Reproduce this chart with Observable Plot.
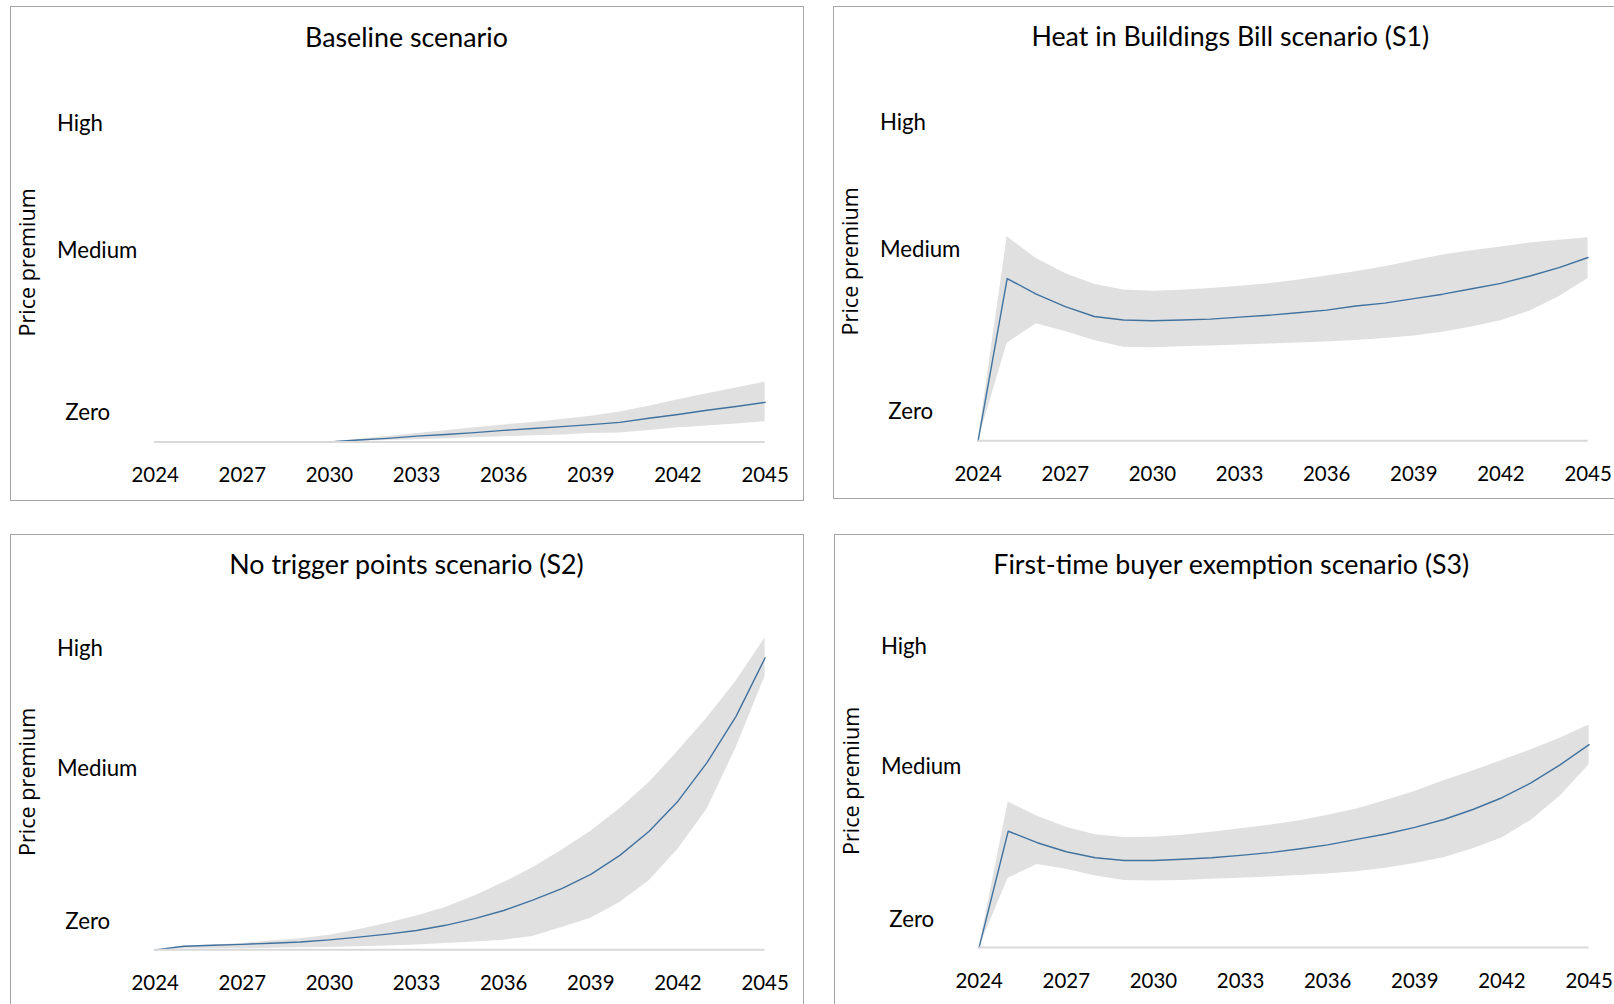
<!DOCTYPE html>
<html>
<head>
<meta charset="utf-8">
<script src="https://cdn.jsdelivr.net/npm/d3@7"></script>
<script src="https://cdn.jsdelivr.net/npm/@observablehq/plot@0.6"></script>
<style>
  html, body { margin: 0; padding: 0; background: #fff; }
  body { width: 1614px; height: 1004px; overflow: hidden; position: relative; font-family: Lato, sans-serif; color: #000; }
  .panel { position: absolute; border: 1.3px solid #a6a6a6; box-sizing: border-box; background: #fff; }
  .panel svg { position: absolute; left: -1px; top: -1px; overflow: visible; }
  .ptitle { position: absolute; left: 0; right: 0; text-align: center; font-family: Lato, sans-serif; font-size: 26.8px; line-height: 1; white-space: nowrap; color: #000; }
  .ylab { position: absolute; left: 0; top: 0; font-family: "Open Sans", sans-serif; font-size: 21.6px; line-height: 1; white-space: nowrap; color: #000; transform-origin: 0 0; }
</style>
</head>
<body>
<script>
// ---- data ----
const years = [2024, 2025, 2026, 2027, 2028, 2029, 2030, 2031, 2032, 2033, 2034, 2035, 2036, 2037, 2038, 2039, 2040, 2041, 2042, 2043, 2044, 2045];
const xTicks = [2024, 2027, 2030, 2033, 2036, 2039, 2042, 2045];
const yTickValues = [9.6, 60.4, 100];
const yTickLabels = ["Zero", "Medium", "High"];
const yAxisTitle = "Price premium";

const titles = [
  "Baseline scenario",
  "Heat in Buildings Bill scenario (S1)",
  "No trigger points scenario (S2)",
  "First-time buyer exemption scenario (S3)"
];

const baselineMid  = [0, 0, 0, 0, 0, 0, 0, 0.6, 1.1, 1.8, 2.3, 2.9, 3.6, 4.2, 4.8, 5.4, 6.1, 7.4, 8.6, 9.9, 11.1, 12.4];
const baselineHigh = [0, 0, 0, 0, 0, 0, 0, 0.8, 1.7, 2.6, 3.5, 4.4, 5.3, 6.1, 7.0, 8.0, 9.4, 11.2, 13.2, 15.1, 16.9, 18.7];
const baselineLow  = [0, 0, 0, 0, 0, 0, 0, 0.2, 0.4, 0.7, 1.0, 1.3, 1.6, 1.9, 2.2, 2.6, 2.8, 3.6, 4.4, 5.0, 5.6, 6.3];

const s1Mid  = [0, 50.8, 45.9, 42.0, 38.9, 37.8, 37.6, 37.8, 38.1, 38.7, 39.3, 40.1, 40.9, 42.2, 43.1, 44.5, 45.9, 47.6, 49.3, 51.6, 54.2, 57.4];
const s1High = [0, 63.9, 57.1, 52.4, 49.0, 47.2, 46.8, 47.1, 47.7, 48.4, 49.2, 50.3, 51.6, 52.9, 54.5, 56.4, 58.2, 59.5, 60.7, 61.9, 62.8, 63.6];
const s1Low  = [0, 30.5, 36.6, 34.2, 31.4, 29.3, 29.1, 29.4, 29.7, 30.0, 30.3, 30.6, 30.9, 31.4, 32.0, 32.8, 34.0, 35.6, 37.6, 40.6, 45.1, 50.8];

const s2Mid  = [0, 1.2, 1.5, 1.8, 2.2, 2.6, 3.3, 4.2, 5.2, 6.4, 8.1, 10.3, 13.0, 16.4, 20.2, 24.9, 31.2, 39.1, 49.1, 61.8, 77.1, 96.4];
const s2High = [0, 1.3, 1.6, 2.1, 2.9, 3.7, 4.8, 6.6, 8.8, 11.2, 14.0, 17.8, 22.2, 27.1, 32.9, 39.2, 46.6, 55.2, 65.6, 76.6, 88.7, 103.0];
const s2Low  = [0, 0.4, 0.4, 0.4, 0.5, 0.7, 0.8, 1.0, 1.3, 1.6, 2.1, 2.6, 3.2, 4.4, 7.4, 10.4, 15.6, 22.7, 33.2, 46.4, 66.7, 90.3];

const s3Mid  = [0, 38.5, 34.7, 31.7, 29.7, 28.8, 28.8, 29.2, 29.7, 30.5, 31.4, 32.6, 34.0, 35.8, 37.6, 39.8, 42.4, 45.7, 49.6, 54.5, 60.5, 67.2];
const s3High = [0, 48.2, 43.5, 39.8, 37.3, 36.4, 36.5, 37.2, 38.2, 39.3, 40.5, 41.9, 43.8, 45.9, 48.7, 51.7, 55.2, 58.5, 61.9, 65.5, 69.3, 73.7];
const s3Low  = [0, 22.9, 27.5, 25.9, 23.7, 22.2, 22.0, 22.2, 22.6, 22.9, 23.3, 23.8, 24.3, 25.1, 26.2, 27.8, 29.7, 32.7, 36.3, 42.1, 50.1, 60.5];

const series = [
  [baselineMid, baselineLow, baselineHigh],
  [s1Mid, s1Low, s1High],
  [s2Mid, s2Low, s2High],
  [s3Mid, s3Low, s3High]
];

// ---- layout ----
const panels = [
  {left: 9.5,   top: 6,     w: 794, h: 495, base: 436.5, span: 320,   titleY: 30,   labY: 255.5},
  {left: 833.3, top: 6,     w: 794, h: 493, base: 435.3, span: 320,   titleY: 29,   labY: 254.4},
  {left: 9.5,   top: 534.3, w: 794, h: 474, base: 416.4, span: 303.6, titleY: 28.8, labY: 247},
  {left: 834.3, top: 534.3, w: 794, h: 474, base: 414,   span: 302.6, titleY: 28.7, labY: 246}
];

const lineColor = "#41729f";
const bandColor = "#e0e0e0";
const tickFontPx = 20.5;
const labelFontPx = 22.3;

panels.forEach((p, i) => {
  const [mid, low, high] = series[i];
  const rows = years.map((year, k) => ({year, mid: mid[k], low: low[k], high: high[k]}));

  const div = document.createElement("div");
  div.className = "panel";
  Object.assign(div.style, {left: p.left + "px", top: p.top + "px", width: p.w + "px", height: p.h + "px"});
  document.body.appendChild(div);

  const svg = Plot.plot({
    width: p.w,
    height: p.h,
    marginLeft: 145,
    marginRight: p.w - 756.5,
    marginTop: p.base - p.span,
    marginBottom: p.h - p.base,
    style: {fontFamily: "Lato, sans-serif", fontSize: tickFontPx + "px", color: "#000", background: "transparent", overflow: "visible"},
    x: {domain: [2024, 2045]},
    y: {domain: [0, 100]},
    marks: [
      Plot.areaY(rows, {x: "year", y1: "low", y2: "high", fill: bandColor}),
      Plot.lineY(rows, {x: "year", y: "mid", stroke: lineColor, strokeWidth: 1.4}),
      Plot.ruleY([0], {stroke: "#d9d9d9", strokeWidth: 2}),
      Plot.axisX(xTicks, {tickSize: 0, tickPadding: 26, tickFormat: d => String(d), label: null, fontSize: tickFontPx, fill: "#000"}),
      Plot.axisY(yTickValues.slice(1), {tickSize: 0, tickPadding: 0, textAnchor: "start", dx: -98.5, dy: 1.5,
        tickFormat: d => yTickLabels[yTickValues.indexOf(d)], label: null, fontSize: labelFontPx, fill: "#000"}),
      Plot.axisY(yTickValues.slice(0, 1), {tickSize: 0, tickPadding: 0, textAnchor: "start", dx: -90, dy: 1.5,
        tickFormat: d => yTickLabels[yTickValues.indexOf(d)], label: null, fontSize: labelFontPx, fill: "#000"})
    ]
  });
  div.appendChild(svg);

  const t = document.createElement("div");
  t.className = "ptitle";
  t.textContent = titles[i];
  t.style.top = (p.titleY - 13) + "px";
  div.appendChild(t);

  const yl = document.createElement("div");
  yl.className = "ylab";
  yl.textContent = yAxisTitle;
  div.appendChild(yl);
  const wl = yl.offsetWidth, hl = yl.offsetHeight;
  yl.style.transform = `translate(${16 - hl / 2}px, ${p.labY + wl / 2}px) rotate(-90deg)`;
});
</script>
</body>
</html>
